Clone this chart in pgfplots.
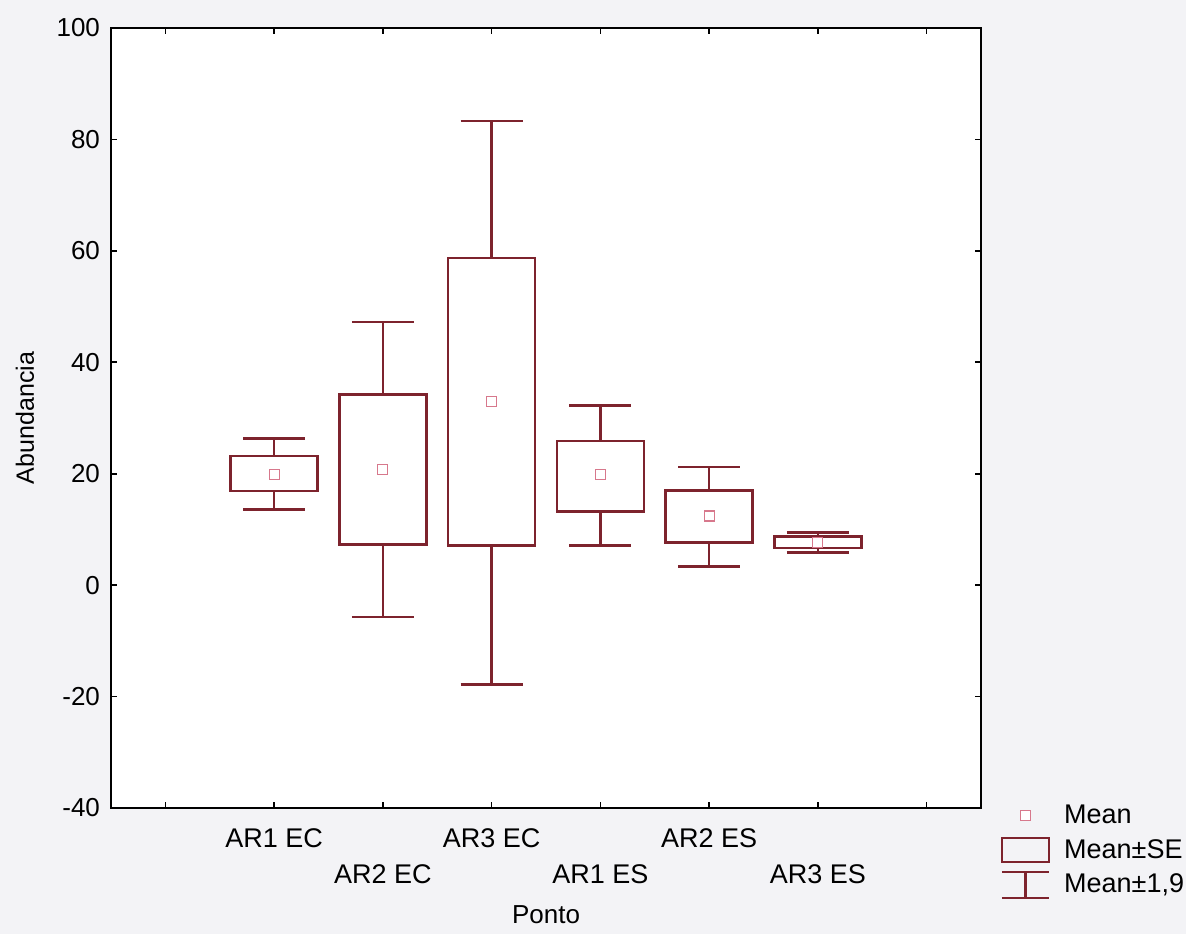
\documentclass[border=0pt]{standalone}
\usepackage{fontspec}
\setmainfont{Liberation Sans}
\usepackage{pgfplots}
\pgfplotsset{compat=1.18}
\usepgfplotslibrary{statistics}
\definecolor{boxcol}{RGB}{125,35,45}
\definecolor{meancol}{RGB}{215,120,140}
\definecolor{paper}{RGB}{243,243,246}
\pgfplotsset{mybox/.style={draw=boxcol, line width=1.3pt, solid, mark=none,
  boxplot/draw direction=y, boxplot/box extend=0.8, boxplot/whisker extend=0.57,
  boxplot/every median/.style={draw=none}}}
\begin{document}
\begin{tikzpicture}[x=1pt,y=1pt]
\fill[paper] (-55.5,-63) rectangle (537.5,404);
\begin{axis}[
  at={(0,0)}, anchor=south west,
  scale only axis, width=435pt, height=390pt,
  xmin=-0.5, xmax=7.5, ymin=-40, ymax=100,
  ytick={-40,-20,...,100},
  xtick={0,...,7},
  xticklabels={,AR1 EC,,AR3 EC,,AR2 ES,,},
  extra x ticks={2,4,6},
  extra x tick labels={AR2 EC,AR1 ES,AR3 ES},
  extra x tick style={xticklabel style={yshift=-18pt}},
  tick align=inside, major tick length=3pt,
  tick style={black, line width=0.8pt},
  axis line style={black, line width=1pt},
  axis background/.style={fill=white},
  /pgf/number format/assume math mode=true,
  yticklabel style={font=\fontsize{13}{15}\selectfont, xshift=-2pt},
  xticklabel style={font=\fontsize{13.5}{16}\selectfont, yshift=-7pt},
  ylabel={Abundancia},
  ylabel style={font=\fontsize{12.5}{15}\selectfont, at={(axis description cs:-0.099,0.5)}, anchor=center},
  xlabel={Ponto},
  xlabel style={font=\fontsize{13}{15}\selectfont, at={(axis description cs:0.5,-0.137)}, anchor=center},
  legend style={at={(axis description cs:1.022,0.010)}, anchor=north west,
    draw=none, fill=none, inner sep=0pt, row sep=2.5pt,
    font=\fontsize{13.5}{16}\selectfont,
    /tikz/every odd column/.append style={column sep=5pt}},
  legend cell align=left,
]
\addlegendimage{legend image code/.code={\draw[meancol, fill=white, line width=0.6pt] (9.25pt,-2.5pt) rectangle (14.25pt,2.5pt);}}
\addlegendentry{Mean}
\addlegendimage{legend image code/.code={\draw[boxcol, line width=1.3pt] (0pt,-6pt) rectangle (23.5pt,6pt);}}
\addlegendentry{Mean±SE}
\addlegendimage{legend image code/.code={\draw[boxcol, line width=1.3pt] (0pt,6.5pt)--(23.5pt,6.5pt) (11.75pt,6.5pt)--(11.75pt,-6.5pt) (0pt,-6.5pt)--(23.5pt,-6.5pt);}}
\addlegendentry{Mean±1,9}

\addplot[mybox, boxplot prepared={draw position=1, lower whisker=13.6, lower quartile=16.9, median=19.9, upper quartile=23.2, upper whisker=26.3}] coordinates {};
\addplot[mybox, boxplot prepared={draw position=2, lower whisker=-5.7, lower quartile=7.3, median=20.8, upper quartile=34.2, upper whisker=47.2}] coordinates {};
\addplot[mybox, boxplot prepared={draw position=3, lower whisker=-17.8, lower quartile=7.1, median=33.0, upper quartile=58.7, upper whisker=83.3}] coordinates {};
\addplot[mybox, boxplot prepared={draw position=4, lower whisker=7.1, lower quartile=13.2, median=19.9, upper quartile=25.9, upper whisker=32.2}] coordinates {};
\addplot[mybox, boxplot prepared={draw position=5, lower whisker=3.4, lower quartile=7.7, median=12.4, upper quartile=17.0, upper whisker=21.2}] coordinates {};
\addplot[mybox, boxplot prepared={draw position=6, lower whisker=5.9, lower quartile=6.7, median=7.7, upper quartile=8.7, upper whisker=9.5}] coordinates {};

\addplot[only marks, mark=square*, mark size=2.5pt,
  mark options={draw=meancol, fill=white, line width=0.6pt}]
  coordinates {(1,19.9) (2,20.8) (3,33.0) (4,19.9) (5,12.4) (6,7.7)};
\end{axis}
\pgfresetboundingbox
\useasboundingbox (-55.5,-63) rectangle (537.5,404);
\end{tikzpicture}
\end{document}
